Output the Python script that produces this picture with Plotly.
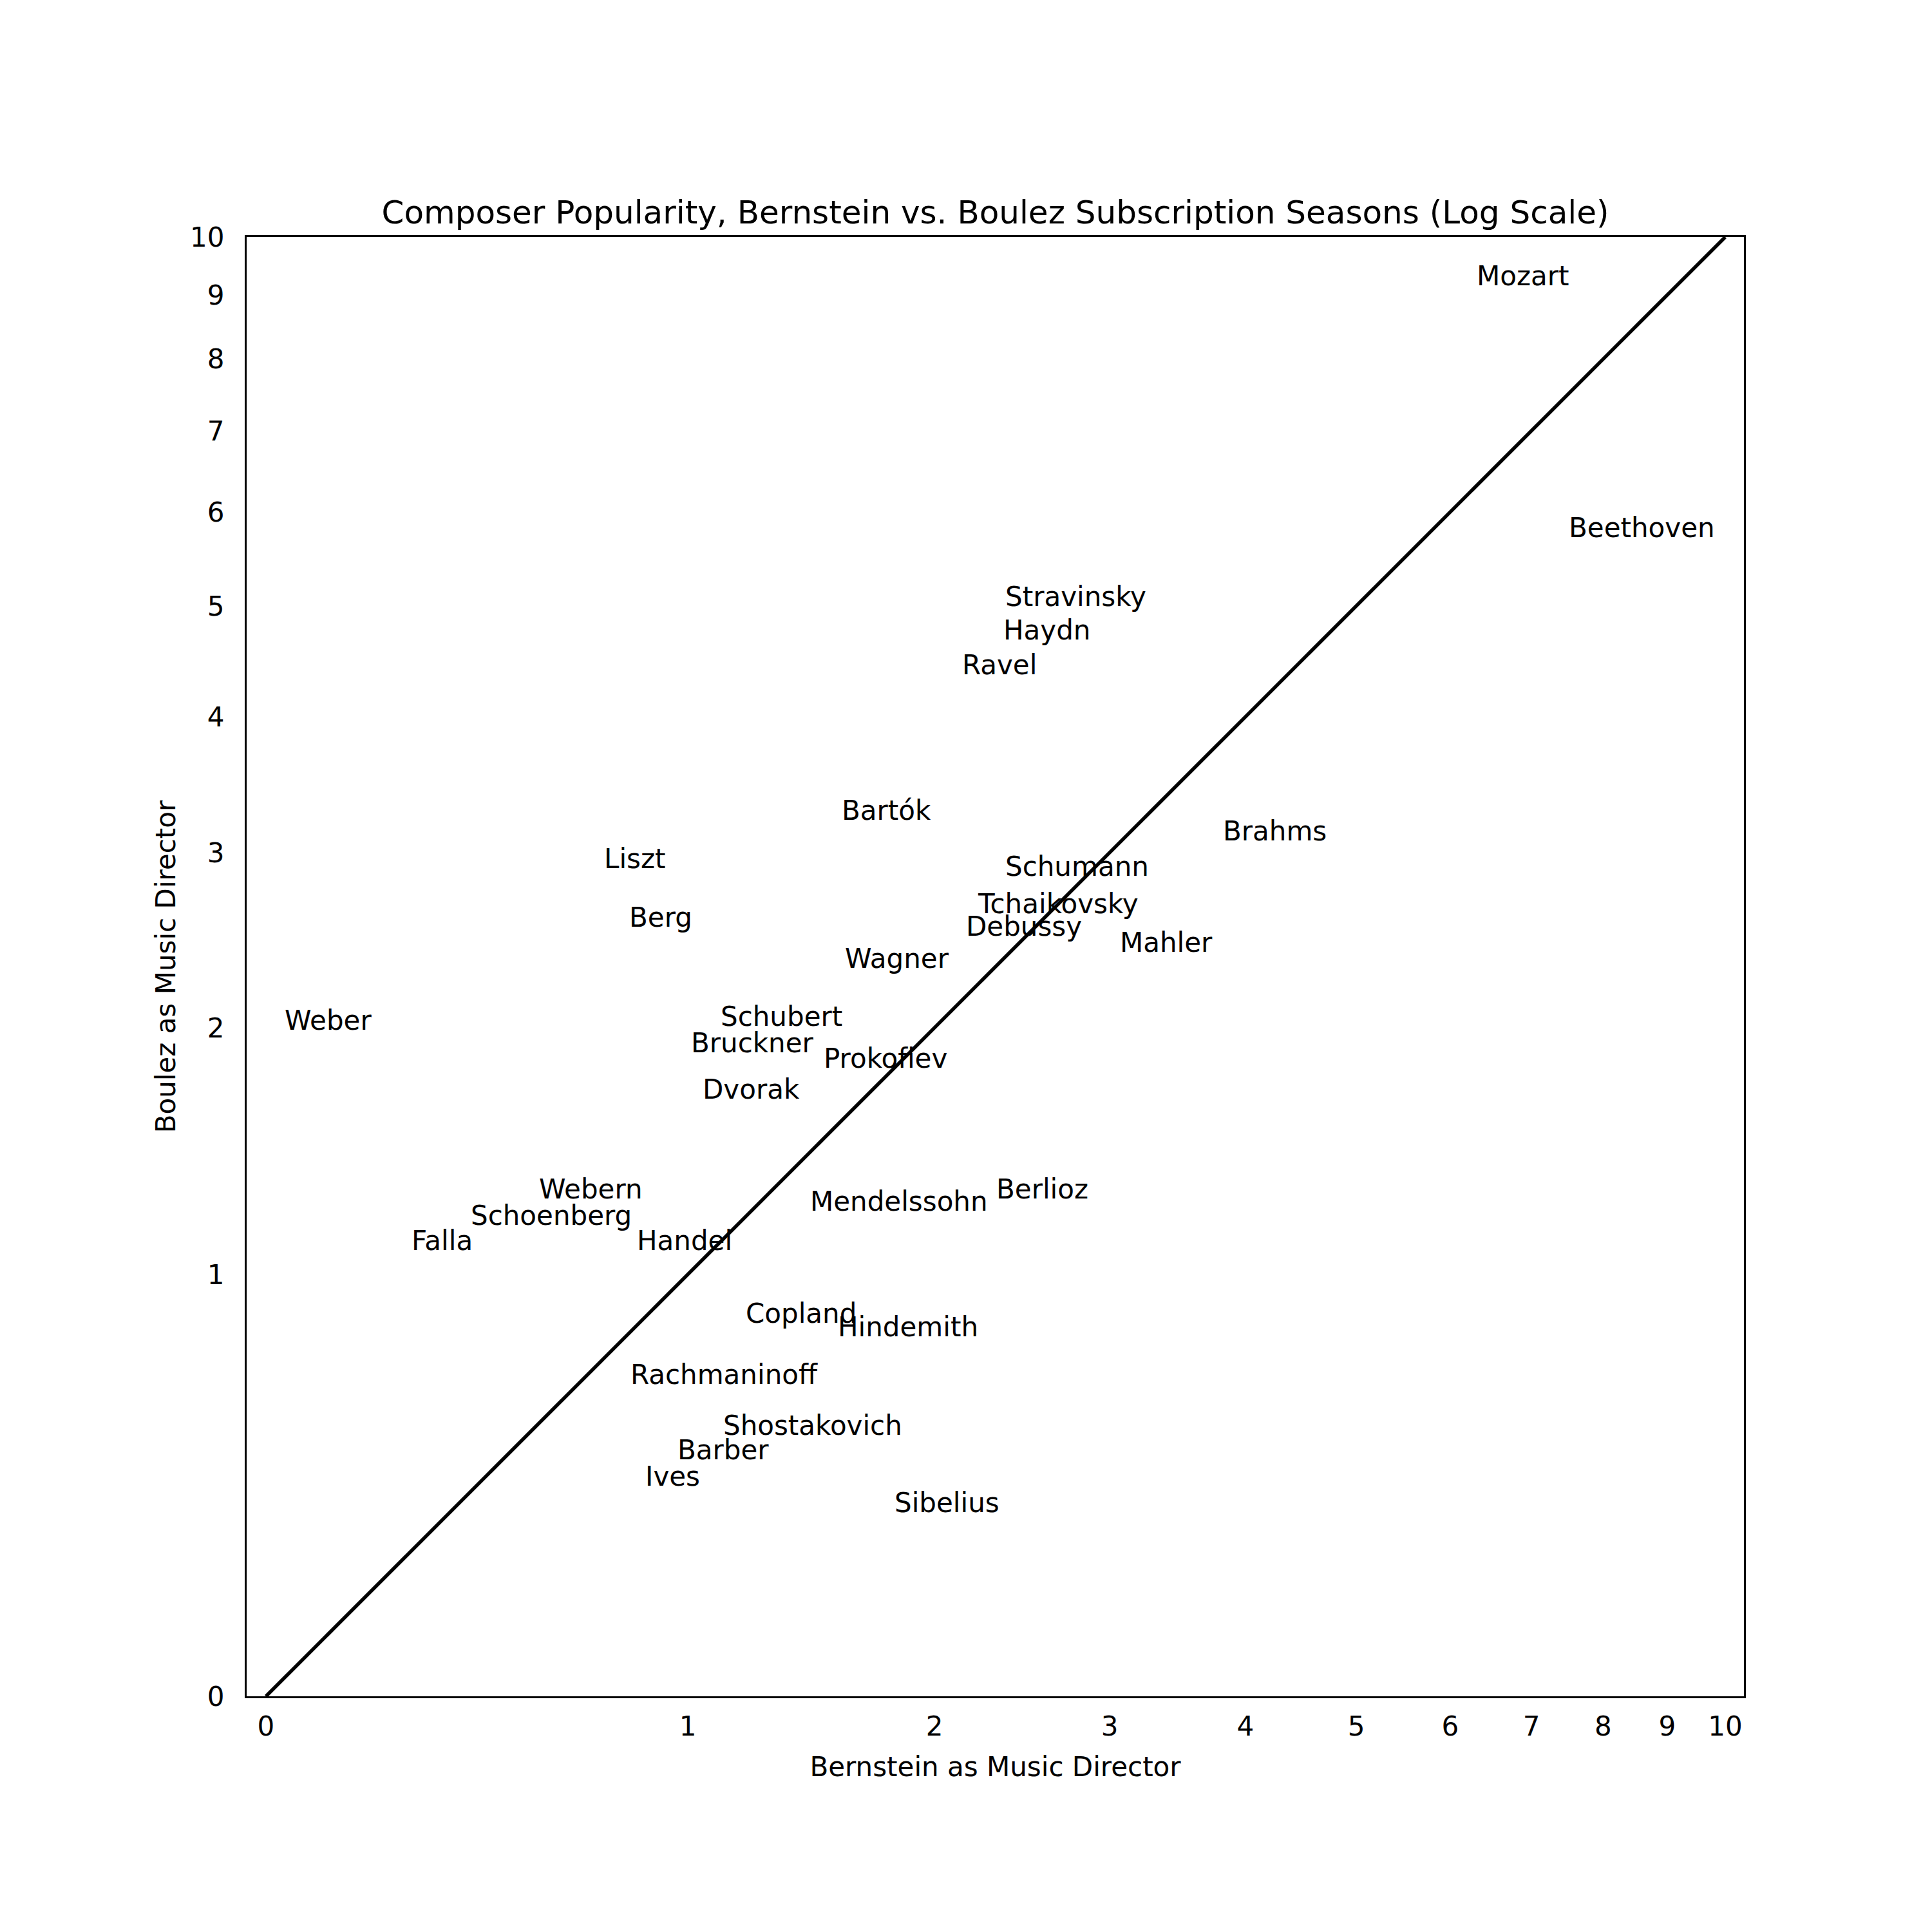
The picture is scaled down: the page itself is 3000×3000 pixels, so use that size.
import numpy as np
import plotly.graph_objects as go

# ---- data (average works per subscription season) ----
composers = ["Mozart", "Beethoven", "Stravinsky", "Haydn", "Ravel", "Bartók", "Liszt",
             "Berg", "Wagner", "Brahms", "Schumann", "Tchaikovsky", "Debussy", "Mahler",
             "Weber", "Schubert", "Bruckner", "Prokofiev", "Dvorak", "Webern", "Schoenberg",
             "Falla", "Handel", "Mendelssohn", "Berlioz", "Copland", "Hindemith",
             "Rachmaninoff", "Shostakovich", "Barber", "Ives", "Sibelius"]
bernstein = [6.31, 7.51, 2.37, 2.36, 2.14, 1.575, 0.743,
             0.817, 1.59, 3.82, 2.37, 2.22, 2.16, 3.07,
             0.031, 1.11, 1.01, 1.50, 1.05, 0.566, 0.40,
             0.27, 0.84, 1.445, 2.32, 1.20, 1.56,
             0.82, 1.12, 0.966, 0.865, 1.81]
boulez = [9.16, 5.72, 5.00, 4.68, 4.36, 3.22, 2.90,
          2.54, 2.31, 3.08, 2.85, 2.62, 2.49, 2.40,
          1.99, 2.01, 1.88, 1.81, 1.67, 1.265, 1.17,
          1.083, 1.081, 1.22, 1.265, 0.848, 0.806,
          0.67, 0.536, 0.476, 0.413, 0.353]
diag_vals = [0, 10]
tick_vals = list(range(0, 11))
tick_text = [str(v) for v in tick_vals]

FONT = "DejaVu Sans"

fig = go.Figure()

# equality line on log(1+x) scale
fig.add_trace(go.Scatter(
    x=np.log1p(diag_vals), y=np.log1p(diag_vals), mode="lines",
    line=dict(color="black", width=5.5), showlegend=False, hoverinfo="skip"))

annotations = []
for name, bx, by in zip(composers, bernstein, boulez):
    annotations.append(dict(
        x=float(np.log1p(bx)), y=float(np.log1p(by)), xref="x", yref="y",
        text=name, showarrow=False, xanchor="left", yanchor="bottom",
        borderpad=0, borderwidth=0, yshift=-10,
        font=dict(family=FONT, size=42, color="black")))

axis_common = dict(
    tickvals=np.log1p(tick_vals), ticktext=tick_text,
    showgrid=False, zeroline=False,
    showline=True, mirror=True, linecolor="black", linewidth=3.3,
    ticks="outside", tickcolor="rgba(0,0,0,0)",
    tickfont=dict(family=FONT, size=42, color="black"),
)

fig.update_layout(
    width=3000, height=3000,
    margin=dict(l=375, r=300, t=360, b=374),
    paper_bgcolor="white", plot_bgcolor="white",
    showlegend=False,
    title=dict(text="Composer Popularity, Bernstein vs. Boulez Subscription Seasons (Log Scale)",
               font=dict(family=FONT, size=50, color="black"),
               x=0.5, xref="paper", xanchor="center",
               y=1, yref="paper", yanchor="bottom", pad=dict(b=21)),
    xaxis=dict(range=[-0.0317, 2.4286], ticklen=7,
               title=dict(text="Bernstein as Music Director", standoff=26,
                          font=dict(family=FONT, size=42, color="black")),
               **axis_common),
    yaxis=dict(range=[0, float(np.log1p(10))], ticklen=23,
               title=dict(text="Boulez as Music Director", standoff=10,
                          font=dict(family=FONT, size=42, color="black")),
               **axis_common),
    annotations=annotations,
)

fig.write_html("out.html")
